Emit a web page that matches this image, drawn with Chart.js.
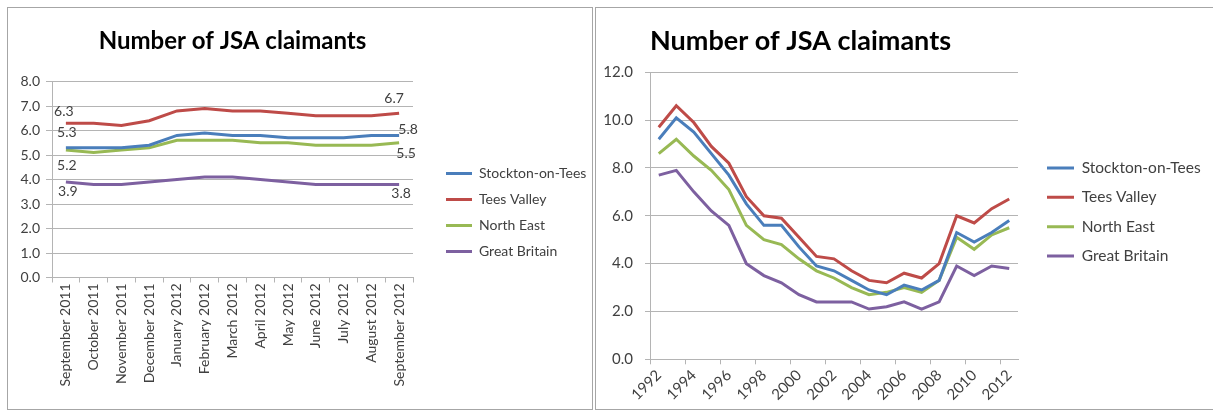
<!DOCTYPE html>
<html>
<head>
<meta charset="utf-8">
<script src="https://cdn.jsdelivr.net/npm/chart.js@4.4.0/dist/chart.umd.min.js"></script>
<style>
    body { margin: 0; background: #fff; width: 1213px; height: 417px; overflow: hidden; position: relative; }
    .panel { position: absolute; border: 1px solid #a6a6a6; box-sizing: border-box; }
    canvas { position: absolute; }
</style>
</head>
<body>
<div class="panel" style="left:7px;top:7px;width:586px;height:403px"></div>
<div class="panel" style="left:595px;top:7px;width:640px;height:403px"></div>
<canvas id="monthly" width="600" height="401" style="left:8px;top:8px"></canvas>
<canvas id="yearly" width="617" height="401" style="left:596px;top:8px"></canvas>
<script>
// series
const seriesNames = ["Stockton-on-Tees", "Tees Valley", "North East", "Great Britain"];
const seriesColors = ["#4A7EBB", "#BE4B48", "#98B954", "#7D60A0"];

// monthly chart (left)
const months = ["September 2011", "October 2011", "November 2011", "December 2011",
    "January 2012", "February 2012", "March 2012", "April 2012", "May 2012",
    "June 2012", "July 2012", "August 2012", "September 2012"];
const stocktonMonthly = [5.3, 5.3, 5.3, 5.4, 5.8, 5.9, 5.8, 5.8, 5.7, 5.7, 5.7, 5.8, 5.8];
const teesMonthly = [6.3, 6.3, 6.2, 6.4, 6.8, 6.9, 6.8, 6.8, 6.7, 6.6, 6.6, 6.6, 6.7];
const northEastMonthly = [5.2, 5.1, 5.2, 5.3, 5.6, 5.6, 5.6, 5.5, 5.5, 5.4, 5.4, 5.4, 5.5];
const britainMonthly = [3.9, 3.8, 3.8, 3.9, 4.0, 4.1, 4.1, 4.0, 3.9, 3.8, 3.8, 3.8, 3.8];
const monthlyTicks = { min: 0, max: 8, step: 1 };

// yearly chart (right)
const years = ["1992", "1993", "1994", "1995", "1996", "1997", "1998", "1999", "2000", "2001", "2002",
    "2003", "2004", "2005", "2006", "2007", "2008", "2009", "2010", "2011", "2012"];
const stocktonYearly = [9.2, 10.1, 9.5, 8.6, 7.7, 6.5, 5.6, 5.6, 4.7, 3.9, 3.7, 3.3, 2.9, 2.7, 3.1, 2.9, 3.3, 5.3, 4.9, 5.3, 5.8];
const teesYearly = [9.7, 10.6, 9.9, 8.9, 8.2, 6.8, 6.0, 5.9, 5.1, 4.3, 4.2, 3.7, 3.3, 3.2, 3.6, 3.4, 4.0, 6.0, 5.7, 6.3, 6.7];
const northEastYearly = [8.6, 9.2, 8.5, 7.9, 7.1, 5.6, 5.0, 4.8, 4.2, 3.7, 3.4, 3.0, 2.7, 2.8, 3.0, 2.8, 3.3, 5.1, 4.6, 5.2, 5.5];
const britainYearly = [7.7, 7.9, 7.0, 6.2, 5.6, 4.0, 3.5, 3.2, 2.7, 2.4, 2.4, 2.4, 2.1, 2.2, 2.4, 2.1, 2.4, 3.9, 3.5, 3.9, 3.8];
const yearlyTicks = { min: 0, max: 12, step: 2 };

const FONT = "Lato";
const gridColor = "#b4b4b4";
const textColor = "#404040";

// first/last point label offsets for the monthly chart, per series: [[dx,dy],[dx,dy]]
const endLabelOffsets = [[[1, -15], [9, -6]], [[-2, -12], [-5, -15]], [[1, 15], [7, 11]], [[2, 10], [2, 9.5]]];

Chart.defaults.font.family = FONT;
Chart.defaults.color = textColor;

// legend width as Chart.js computes it, so the plot area lands where it should
function legendWidth(fontSize, boxWidth, padding) {
    const ctx = document.createElement("canvas").getContext("2d");
    ctx.font = fontSize + "px " + FONT;
    const widest = Math.max(...seriesNames.map(n => ctx.measureText(n).width));
    return padding + boxWidth + fontSize / 2 + widest + 10;
}

function makeDatasets(values) {
    return values.map((data, i) => ({
        label: seriesNames[i],
        data: data,
        borderColor: seriesColors[i],
        backgroundColor: seriesColors[i],
        borderWidth: 3,
        pointRadius: 0,
        tension: 0,
        fill: false
    }));
}

const endLabels = {
    id: "endLabels",
    afterDatasetsDraw(chart, args, opts) {
        const ctx = chart.ctx;
        ctx.save();
        ctx.font = opts.size + "px " + FONT;
        ctx.fillStyle = textColor;
        ctx.textAlign = "center";
        ctx.textBaseline = "middle";
        opts.offsets.forEach((pair, di) => {
            const meta = chart.getDatasetMeta(di);
            const data = chart.data.datasets[di].data;
            [0, data.length - 1].forEach((idx, k) => {
                const pt = meta.data[idx];
                ctx.fillText(data[idx].toFixed(1), pt.x + pair[k][0], pt.y + pair[k][1]);
            });
        });
        ctx.restore();
    }
};

// lay one chart out: plot area given in canvas pixels
function buildChart(canvas, cfg) {
    const legendW = legendWidth(cfg.legendSize, cfg.boxWidth, cfg.legendPad);
    const padRight = Math.max(0, canvas.width - cfg.area.right - cfg.spacer - legendW);
    const titleLine = cfg.titleSize * 1.2;
    // top padding only nudges the legend down; the title padding takes it back
    const padTop = cfg.legendShift * 2;
    return new Chart(canvas, {
        type: "line",
        data: { labels: cfg.labels, datasets: makeDatasets(cfg.values) },
        plugins: cfg.plugins || [],
        options: {
            responsive: false,
            animation: false,
            layout: { padding: { left: cfg.area.left - cfg.yWidth, top: padTop, right: padRight, bottom: 0 } },
            plugins: {
                title: {
                    display: true,
                    text: "Number of JSA claimants",
                    fullSize: false,
                    align: cfg.titleAlign,
                    color: "#000",
                    font: { family: FONT, size: cfg.titleSize, weight: "bold" },
                    padding: { top: cfg.titleTop - padTop, bottom: cfg.area.top - cfg.titleTop - titleLine }
                },
                legend: {
                    position: "right",
                    maxWidth: 400,
                    labels: {
                        usePointStyle: true,
                        pointStyle: "line",
                        pointStyleWidth: cfg.boxWidth,
                        padding: cfg.legendPad,
                        color: textColor,
                        font: { family: FONT, size: cfg.legendSize }
                    }
                },
                tooltip: { enabled: false },
                endLabels: cfg.endLabels
            },
            scales: {
                x: {
                    type: "category",
                    offset: true,
                    grid: {
                        offset: true,
                        drawOnChartArea: false,
                        tickLength: 5,
                        color: cfg.xGridColor
                    },
                    border: { color: gridColor },
                    ticks: {
                        autoSkip: false,
                        minRotation: cfg.rotation,
                        maxRotation: cfg.rotation,
                        padding: cfg.xPad,
                        font: { size: cfg.tickSize },
                        callback: cfg.xCallback
                    },
                    afterFit(s) { s.height = canvas.height - cfg.area.bottom; }
                },
                y: {
                    min: cfg.ticks.min,
                    max: cfg.ticks.max,
                    grid: { color: gridColor, tickLength: cfg.yTickLen },
                    border: { color: gridColor },
                    ticks: {
                        stepSize: cfg.ticks.step,
                        padding: cfg.yPad,
                        font: { size: cfg.tickSize },
                        callback: v => v.toFixed(1)
                    },
                    afterFit(s) { s.width = cfg.yWidth; }
                },
                gap: {
                    type: "linear",
                    position: "right",
                    display: true,
                    grid: { display: false },
                    border: { display: false },
                    ticks: { display: false },
                    afterFit(s) { s.width = cfg.spacer; }
                }
            }
        }
    });
}

buildChart(document.getElementById("monthly"), {
    labels: months,
    values: [stocktonMonthly, teesMonthly, northEastMonthly, britainMonthly],
    ticks: monthlyTicks,
    area: { left: 44, right: 405, top: 73.5, bottom: 269.5 },
    yWidth: 44, yTickLen: 6, yPad: 6,
    titleSize: 24, titleTop: 19, titleAlign: "center",
    legendSize: 14, legendPad: 12, boxWidth: 26, spacer: 21, legendShift: 4,
    tickSize: 14, rotation: 90, xPad: 1,
    xGridColor: gridColor,
    xCallback: function (v) { return this.getLabelForValue(v); },
    plugins: [endLabels],
    endLabels: { size: 14, offsets: endLabelOffsets }
});

buildChart(document.getElementById("yearly"), {
    labels: years,
    values: [stocktonYearly, teesYearly, northEastYearly, britainYearly],
    ticks: yearlyTicks,
    area: { left: 54, right: 422, top: 64.3, bottom: 351.3 },
    yWidth: 54, yTickLen: 5, yPad: 12,
    titleSize: 27, titleTop: 17, titleAlign: "start",
    legendSize: 15.5, legendPad: 13.8, boxWidth: 27, spacer: 15.2, legendShift: 3.5,
    tickSize: 15, rotation: 45, xPad: 2,
    // tick marks and labels every second year
    xGridColor: c => (c.tick && c.index % 2 === 0) ? gridColor : "rgba(0,0,0,0)",
    xCallback: function (v, i) { return i % 2 === 0 ? this.getLabelForValue(v) : ""; }
});
</script>
</body>
</html>
